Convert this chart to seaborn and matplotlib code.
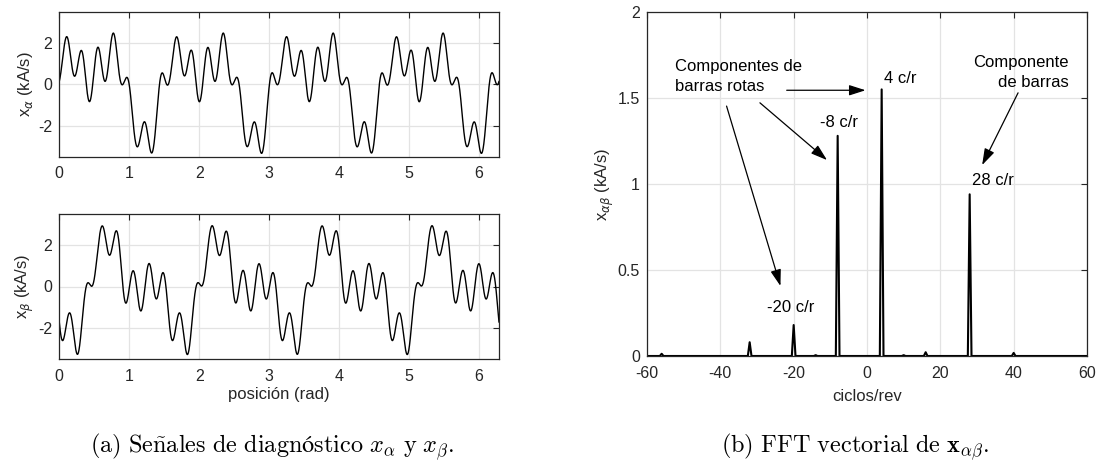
import numpy as np
import pandas as pd
import matplotlib
matplotlib.use("Agg")
import matplotlib.pyplot as plt
import seaborn as sns
from matplotlib.ticker import FuncFormatter

# Harmonic content of the space vector x_ab = x_a + j*x_b
orders = [4, -8, 28, -20, -32, 16, 40, -56, -14, 10]                        # cycles/rev
amplitudes = [1.55, 1.28, 0.94, 0.18, 0.08, 0.022, 0.018, 0.013, 0.005, 0.005]  # kA/s
phases = [-1.74, 0.34, -2.744, -1.571, -1.571, 0.0, 0.0, 0.0, 0.0, 0.0]      # rad

pos_ticks = [0, 1, 2, 3, 4, 5, 6]
sig_ticks = [-2, 0, 2]
freq_ticks = [-60, -40, -20, 0, 20, 40, 60]
mag_ticks = [0, 0.5, 1, 1.5, 2]

sns.set_style("white")
plt.rcParams["font.family"] = ["Liberation Sans", "DejaVu Sans"]
plt.rcParams["axes.unicode_minus"] = False

INK = "#262626"
GRID = "#e3e3e3"

# rotor position over one revolution and the diagnostic vector
theta = np.linspace(0, 2 * np.pi, 4000)
x_vec = np.zeros_like(theta, dtype=complex)
for k, a, ph in zip(orders, amplitudes, phases):
    x_vec += a * np.exp(1j * (k * theta + ph))
signals = pd.DataFrame({"pos": theta, "xa": x_vec.real, "xb": x_vec.imag})

# magnitude spectrum on a half-cycle grid
freq = np.arange(-60, 60.25, 0.5)
mag = np.zeros_like(freq)
for k, a in zip(orders, amplitudes):
    mag[np.isclose(freq, k)] = a
spectrum = pd.DataFrame({"f": freq, "mag": mag})

W, H = 1096, 463
fig = plt.figure(figsize=(W / 100, H / 100), dpi=100)


def px_axes(left, top, right, bottom):
    return fig.add_axes([left / W, 1 - bottom / H, (right - left) / W, (bottom - top) / H])


ax_a = px_axes(59.3, 11.7, 499, 156.7)
ax_b = px_axes(59.3, 214, 499, 359)
ax_f = px_axes(647, 12, 1087, 356)

fmt = FuncFormatter(lambda v, p: f"{v:g}")


def style(ax):
    ax.grid(True, color=GRID, lw=0.9)
    ax.set_axisbelow(True)
    for s in ax.spines.values():
        s.set_color(INK)
        s.set_linewidth(0.9)
        s.set_visible(True)
    ax.tick_params(direction="in", length=4, width=0.8, color=INK, labelcolor=INK,
                   labelsize=11.5, top=True, right=True, labeltop=False, labelright=False)
    ax.tick_params(axis="x", pad=7)
    ax.tick_params(axis="y", pad=5)
    ax.xaxis.set_major_formatter(fmt)
    ax.yaxis.set_major_formatter(fmt)


for ax, col, lab in [(ax_a, "xa", r"x$_{\alpha}$ (kA/s)"), (ax_b, "xb", r"x$_{\beta}$ (kA/s)")]:
    sns.lineplot(data=signals, x="pos", y=col, ax=ax, color="black", lw=1.0,
                 estimator=None, sort=False)
    ax.set_xlim(0, 2 * np.pi)
    ax.set_ylim(-3.5, 3.5)
    ax.set_xticks(pos_ticks)
    ax.set_yticks(sig_ticks)
    style(ax)
    ax.set_xlabel("")
    ax.set_ylabel(lab, fontsize=12, color=INK)
    ax.yaxis.set_label_coords(-0.078, 0.5)
    ax.yaxis.label.set_va("center")

ax_b.set_xlabel("posición (rad)", fontsize=12, color=INK)
ax_b.xaxis.set_label_coords(0.5, -0.248)
ax_b.xaxis.label.set_va("center")

sns.lineplot(data=spectrum, x="f", y="mag", ax=ax_f, color="black", lw=1.5,
             estimator=None, sort=False)
ax_f.set_xlim(-60, 60)
ax_f.set_ylim(0, 2)
ax_f.set_xticks(freq_ticks)
ax_f.set_yticks(mag_ticks)
style(ax_f)
ax_f.set_xlabel("ciclos/rev", fontsize=12, color=INK)
ax_f.xaxis.set_label_coords(0.5, -0.119)
ax_f.xaxis.label.set_va("center")
ax_f.set_ylabel(r"x$_{\alpha\beta}$ (kA/s)", fontsize=12, color=INK)
ax_f.yaxis.set_label_coords(-0.095, 0.5)
ax_f.yaxis.label.set_va("center")

# annotations on the spectrum
arrow = dict(arrowstyle="-|>,head_length=1.0,head_width=0.32", color="black",
             lw=0.9, shrinkA=0, shrinkB=0)
txt = dict(fontsize=12, color="black")
ax_f.text(-52.3, 1.625, "Componentes de\nbarras rotas", ha="left", va="center",
          linespacing=1.45, **txt)
ax_f.text(54.9, 1.649, "Componente\nde barras", ha="right", va="center",
          multialignment="right", linespacing=1.45, **txt)
ax_f.text(4.6, 1.613, "4 c/r", ha="left", va="center", **txt)
ax_f.text(-12.9, 1.356, "-8 c/r", ha="left", va="center", **txt)
ax_f.text(-27.2, 0.28, "-20 c/r", ha="left", va="center", **txt)
ax_f.text(28.7, 1.023, "28 c/r", ha="left", va="center", **txt)

for tail, head in [((-21.9, 1.545), (-0.4, 1.545)),
                   ((-29.2, 1.472), (-10.9, 1.139)),
                   ((-38.3, 1.453), (-23.6, 0.407)),
                   ((41.2, 1.53), (31.4, 1.11))]:
    ax_f.annotate("", xy=head, xytext=tail, arrowprops=arrow)

# sub-figure captions
cap_a = (r"$\mathrm{(a)\ Se\tilde{n}ales\ de\ diagnóstico}\ x_{\alpha}\ "
         r"\mathrm{y}\ x_{\beta}\mathrm{.}$")
cap_b = r"$\mathrm{(b)\ FFT\ vectorial\ de}\ \mathbf{x}_{\alpha\beta}\mathrm{.}$"
fig.text(272 / W, 1 - 452 / H, cap_a, ha="center", va="baseline", fontsize=17.5,
         math_fontfamily="cm", color="black")
fig.text(855 / W, 1 - 452 / H, cap_b, ha="center", va="baseline", fontsize=17.5,
         math_fontfamily="cm", color="black")

fig.savefig("out.png", dpi=100, facecolor="white")
